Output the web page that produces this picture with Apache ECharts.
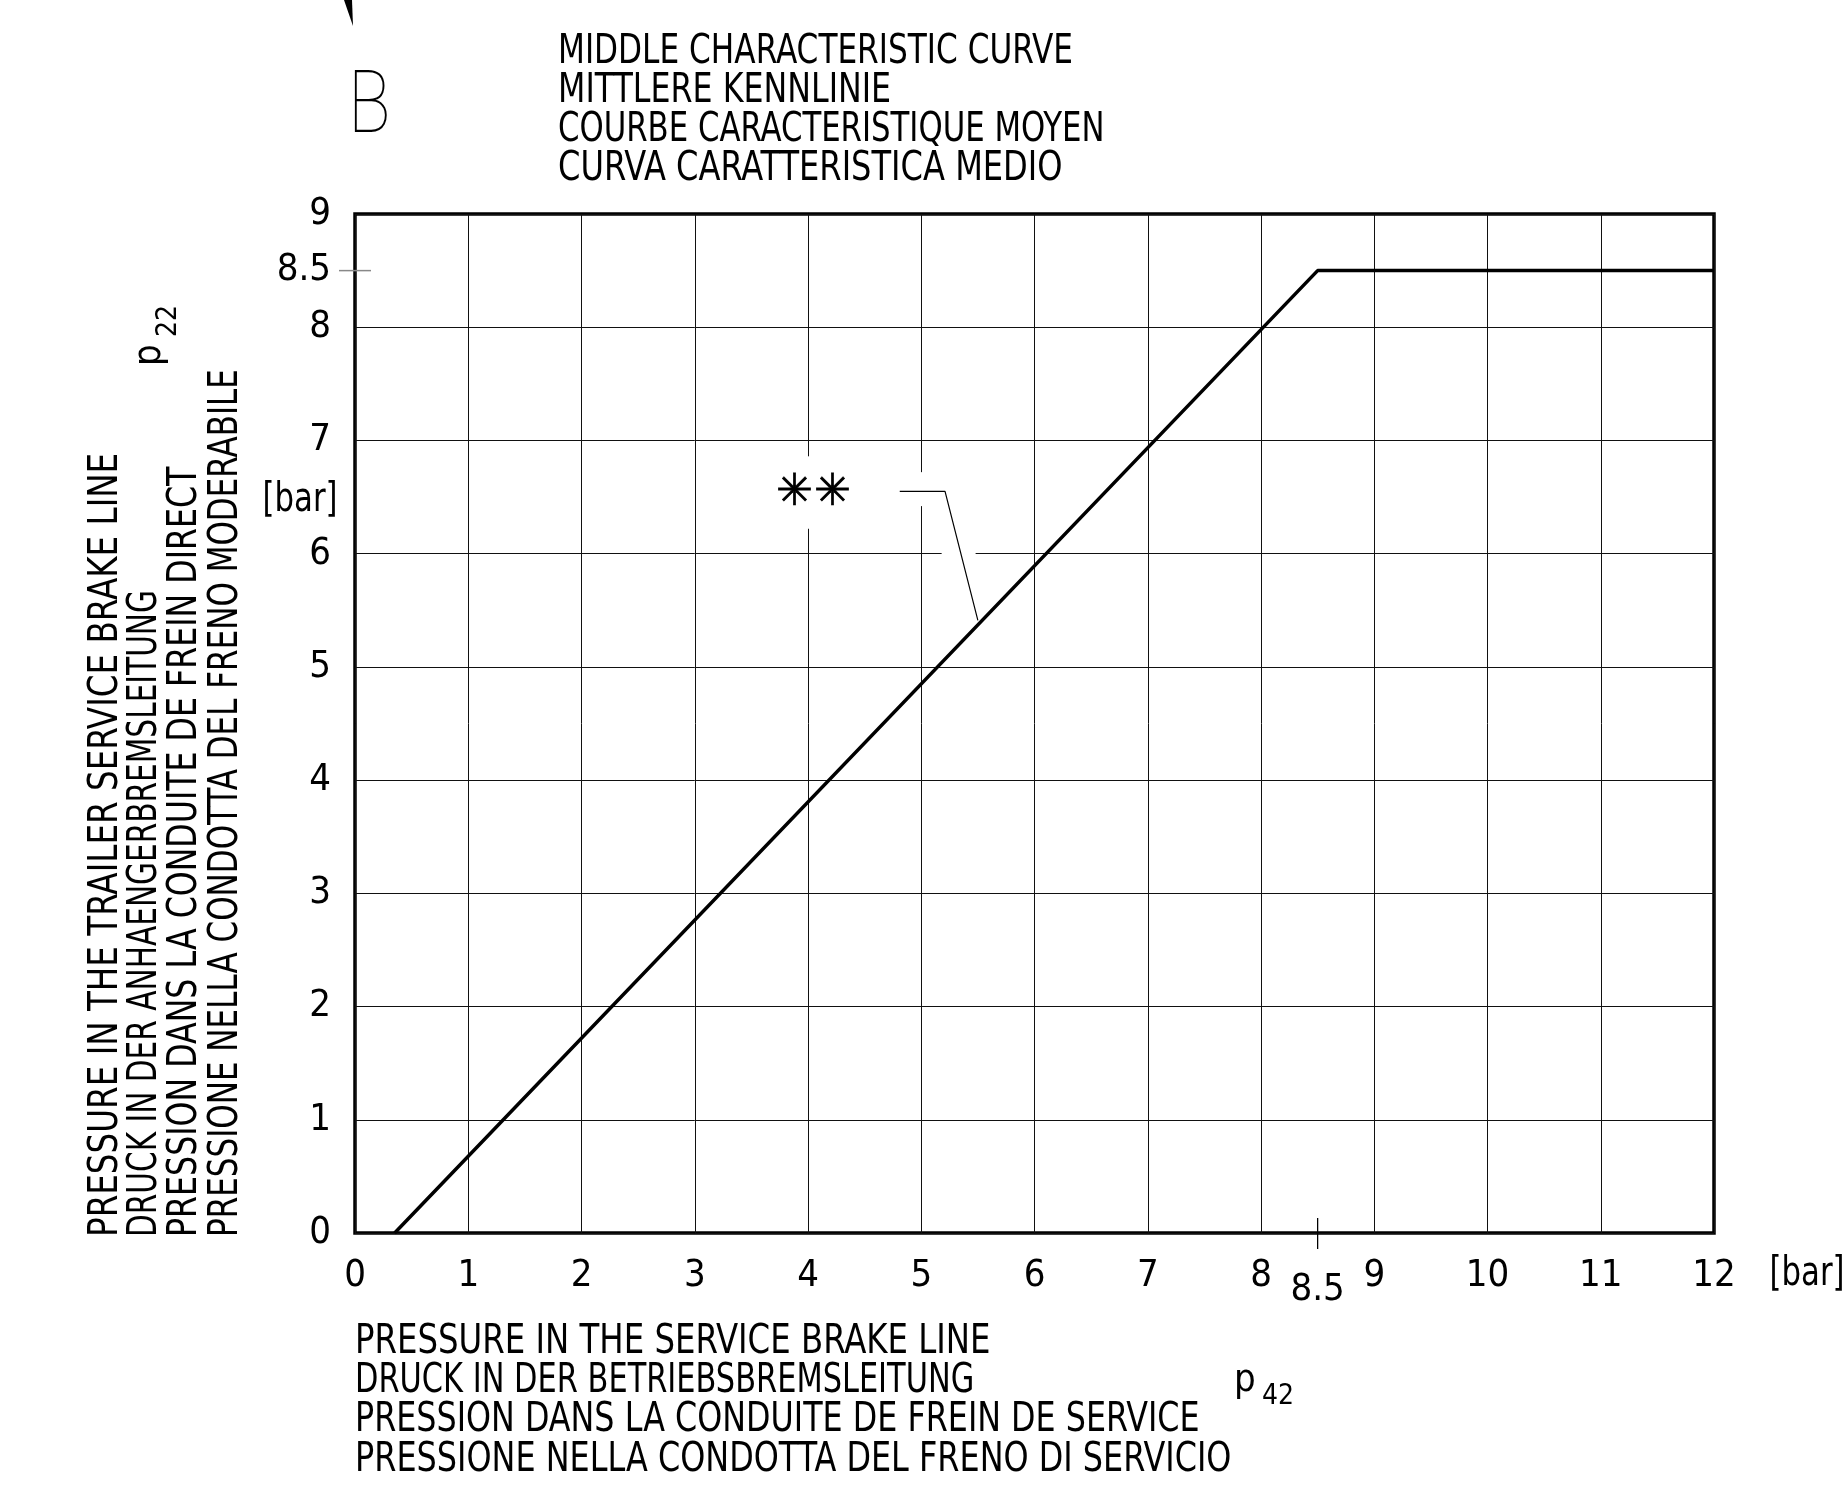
<!DOCTYPE html>
<html><head><meta charset="utf-8">
<script src="https://cdn.jsdelivr.net/npm/echarts@6/dist/echarts.min.js"></script>
<style>html,body{margin:0;padding:0;background:#fff}#c{width:1846px;height:1487px}</style>
</head><body><div id="c"></div>
<script>
// ---- data ----
const curveX = [0.35, 8.5, 12];
const curveY = [0, 8.5, 8.5];
const leaderX = [4.81, 5.21, 5.5];
const leaderY = [6.55, 6.55, 5.41];
const xMin = 0, xMax = 12, xStep = 1;
const yMin = 0, yMax = 9, yStep = 1;
const extraTick = 8.5;
const extraTickLabel = '8.5';
const asteriskAt = [4.05, 6.53];
const titleLines = [
  'MIDDLE CHARACTERISTIC CURVE',
  'MITTLERE KENNLINIE',
  'COURBE CARACTERISTIQUE MOYEN',
  'CURVA CARATTERISTICA MEDIO'
];
const yTitleLines = [
  'PRESSURE IN THE TRAILER SERVICE BRAKE LINE',
  'DRUCK IN DER ANHAENGERBREMSLEITUNG',
  'PRESSION DANS LA CONDUITE DE FREIN DIRECT',
  'PRESSIONE NELLA CONDOTTA DEL FRENO MODERABILE'
];
const xTitleLines = [
  'PRESSURE IN THE SERVICE BRAKE LINE',
  'DRUCK IN DER BETRIEBSBREMSLEITUNG',
  'PRESSION DANS LA CONDUITE DE FREIN DE SERVICE',
  'PRESSIONE NELLA CONDOTTA DEL FRENO DI SERVICIO'
];
const unitLabel = '[bar]';
const yVar = ['p', '22'];
const xVar = ['p', '42'];
const panelLetter = 'B';

// ---- layout (text squeeze factors to mimic the narrow CAD font) ----
const titleSqueeze = [0.912, 0.928, 0.90, 0.939];
const yTitleSqueeze = [0.953, 0.866, 0.926, 0.907];
const xTitleSqueeze = [0.947, 0.89, 0.93, 0.933];
const stretchY = 1.08;

// ---- chart ----
const FONT = '"Liberation Sans Narrow", "DejaVu Sans Condensed", "Noto Sans", sans-serif';
const FS = 38;
const chart = echarts.init(document.getElementById('c'), null, {renderer: 'canvas'});
const axisCommon = {
  type: 'value',
  axisLine: {show: false},
  axisTick: {show: false},
  splitLine: {show: true, lineStyle: {color: '#111', width: 1}},
  axisLabel: {color: '#000', fontSize: FS, fontFamily: FONT}
};
chart.setOption({
  animation: false,
  backgroundColor: '#fff',
  grid: {left: 355, top: 214, right: 132, bottom: 254, show: true, borderColor: '#000', borderWidth: 3.5, backgroundColor: 'transparent'},
  xAxis: Object.assign({}, axisCommon, {min: xMin, max: xMax, interval: xStep,
    axisLabel: Object.assign({}, axisCommon.axisLabel, {margin: 24})}),
  yAxis: Object.assign({}, axisCommon, {min: yMin, max: yMax, interval: yStep,
    axisLabel: Object.assign({}, axisCommon.axisLabel, {margin: 24})}),
  series: [
    {type: 'line', data: curveX.map((x, i) => [x, curveY[i]]), symbol: 'none',
     lineStyle: {color: '#000', width: 3.5}, z: 5, clip: false},
    {type: 'line', data: leaderX.map((x, i) => [x, leaderY[i]]), symbol: 'none',
     lineStyle: {color: '#000', width: 1.2}, z: 5, clip: false}
  ]
});

const P = (x, y) => chart.convertToPixel({gridIndex: 0}, [x, y]);
const g = [];
const txt = (x, y, text, o) => Object.assign({type: 'text', z: 6, x: x, y: y,
  style: {text: text, font: FS + 'px ' + FONT, fill: '#000', align: 'left', verticalAlign: 'middle'}}, o || {});
// white masks behind the annotation
function maskV(x, y1, y2, w) { const a = P(x, y1), b = P(x, y2); g.push({type: 'rect', z: 3, shape: {x: a[0] - w / 2, y: a[1], width: w, height: b[1] - a[1]}, style: {fill: '#fff'}}); }
function maskH(y, x1, x2, h) { const a = P(x1, y), b = P(x2, y); g.push({type: 'rect', z: 3, shape: {x: a[0], y: a[1] - h / 2, width: b[0] - a[0], height: h}, style: {fill: '#fff'}}); }
maskV(4, 6.86, 6.22, 6);
maskV(5, 6.72, 6.42, 6);
maskH(6, 5.18, 5.48, 6);
// asterisks
const ap = P(asteriskAt[0], asteriskAt[1]);
[-19, 19].forEach(dx => g.push({type: 'text', z: 6, x: ap[0] + dx, y: ap[1],
  style: {text: '\u2733', font: '44px "DejaVu Sans"', fill: '#000', stroke: '#000', lineWidth: 0.7, align: 'center', verticalAlign: 'middle'}}));
// extra 8.5 ticks
const ty = P(0, extraTick);
g.push({type: 'line', z: 6, shape: {x1: ty[0] - 16, y1: ty[1], x2: ty[0] + 16, y2: ty[1]}, style: {stroke: '#888', lineWidth: 1.5}});
g.push(txt(ty[0] - 24, ty[1], extraTickLabel, {style: {text: extraTickLabel, font: FS + 'px ' + FONT, fill: '#000', align: 'right', verticalAlign: 'middle'}}));
const tx = P(extraTick, 0);
g.push({type: 'line', z: 6, shape: {x1: tx[0], y1: tx[1] - 15, x2: tx[0], y2: tx[1] + 16}, style: {stroke: '#000', lineWidth: 1.3}});
g.push(txt(tx[0], tx[1] + 57, extraTickLabel, {style: {text: extraTickLabel, font: FS + 'px ' + FONT, fill: '#000', align: 'center', verticalAlign: 'middle'}}));
// unit labels
g.push(txt(300, 500, unitLabel, {scaleX: 0.9, scaleY: stretchY, style: {text: unitLabel, font: FS + 'px ' + FONT, fill: '#000', align: 'center', verticalAlign: 'middle'}}));
g.push(txt(1807, 1274, unitLabel, {scaleX: 0.9, scaleY: stretchY, style: {text: unitLabel, font: FS + 'px ' + FONT, fill: '#000', align: 'center', verticalAlign: 'middle'}}));
// title
titleLines.forEach((t, i) => g.push(txt(558, 52 + i * 39, t, {scaleX: titleSqueeze[i], scaleY: stretchY})));
g.push(txt(348, 110, panelLetter, {scaleX: 0.86, scaleY: 1.06,
  style: {text: panelLetter, font: '100 82px Roboto, ' + FONT, fill: '#000', align: 'left', verticalAlign: 'middle'}}));
// little wedge at top-left
g.push({type: 'polygon', shape: {points: [[344, 0], [352, 0], [353, 26]]}, style: {fill: '#000'}});
// y title (rotated)
const yx = [106, 145, 185, 226];
yTitleLines.forEach((t, i) => g.push(txt(yx[i], 1237, t, {rotation: Math.PI / 2, scaleX: yTitleSqueeze[i], scaleY: stretchY})));
g.push(txt(150, 366, yVar[0], {rotation: Math.PI / 2}));
g.push(txt(169, 337, yVar[1], {rotation: Math.PI / 2, style: {text: yVar[1], font: '28px ' + FONT, fill: '#000', align: 'left', verticalAlign: 'middle'}}));
// x title
xTitleLines.forEach((t, i) => g.push(txt(355, 1342 + i * 39.4, t, {scaleX: xTitleSqueeze[i], scaleY: stretchY})));
g.push(txt(1234, 1381, xVar[0]));
g.push(txt(1262, 1397, xVar[1], {style: {text: xVar[1], font: '28px ' + FONT, fill: '#000', align: 'left', verticalAlign: 'middle'}}));
chart.setOption({graphic: g});
</script>
</body></html>
